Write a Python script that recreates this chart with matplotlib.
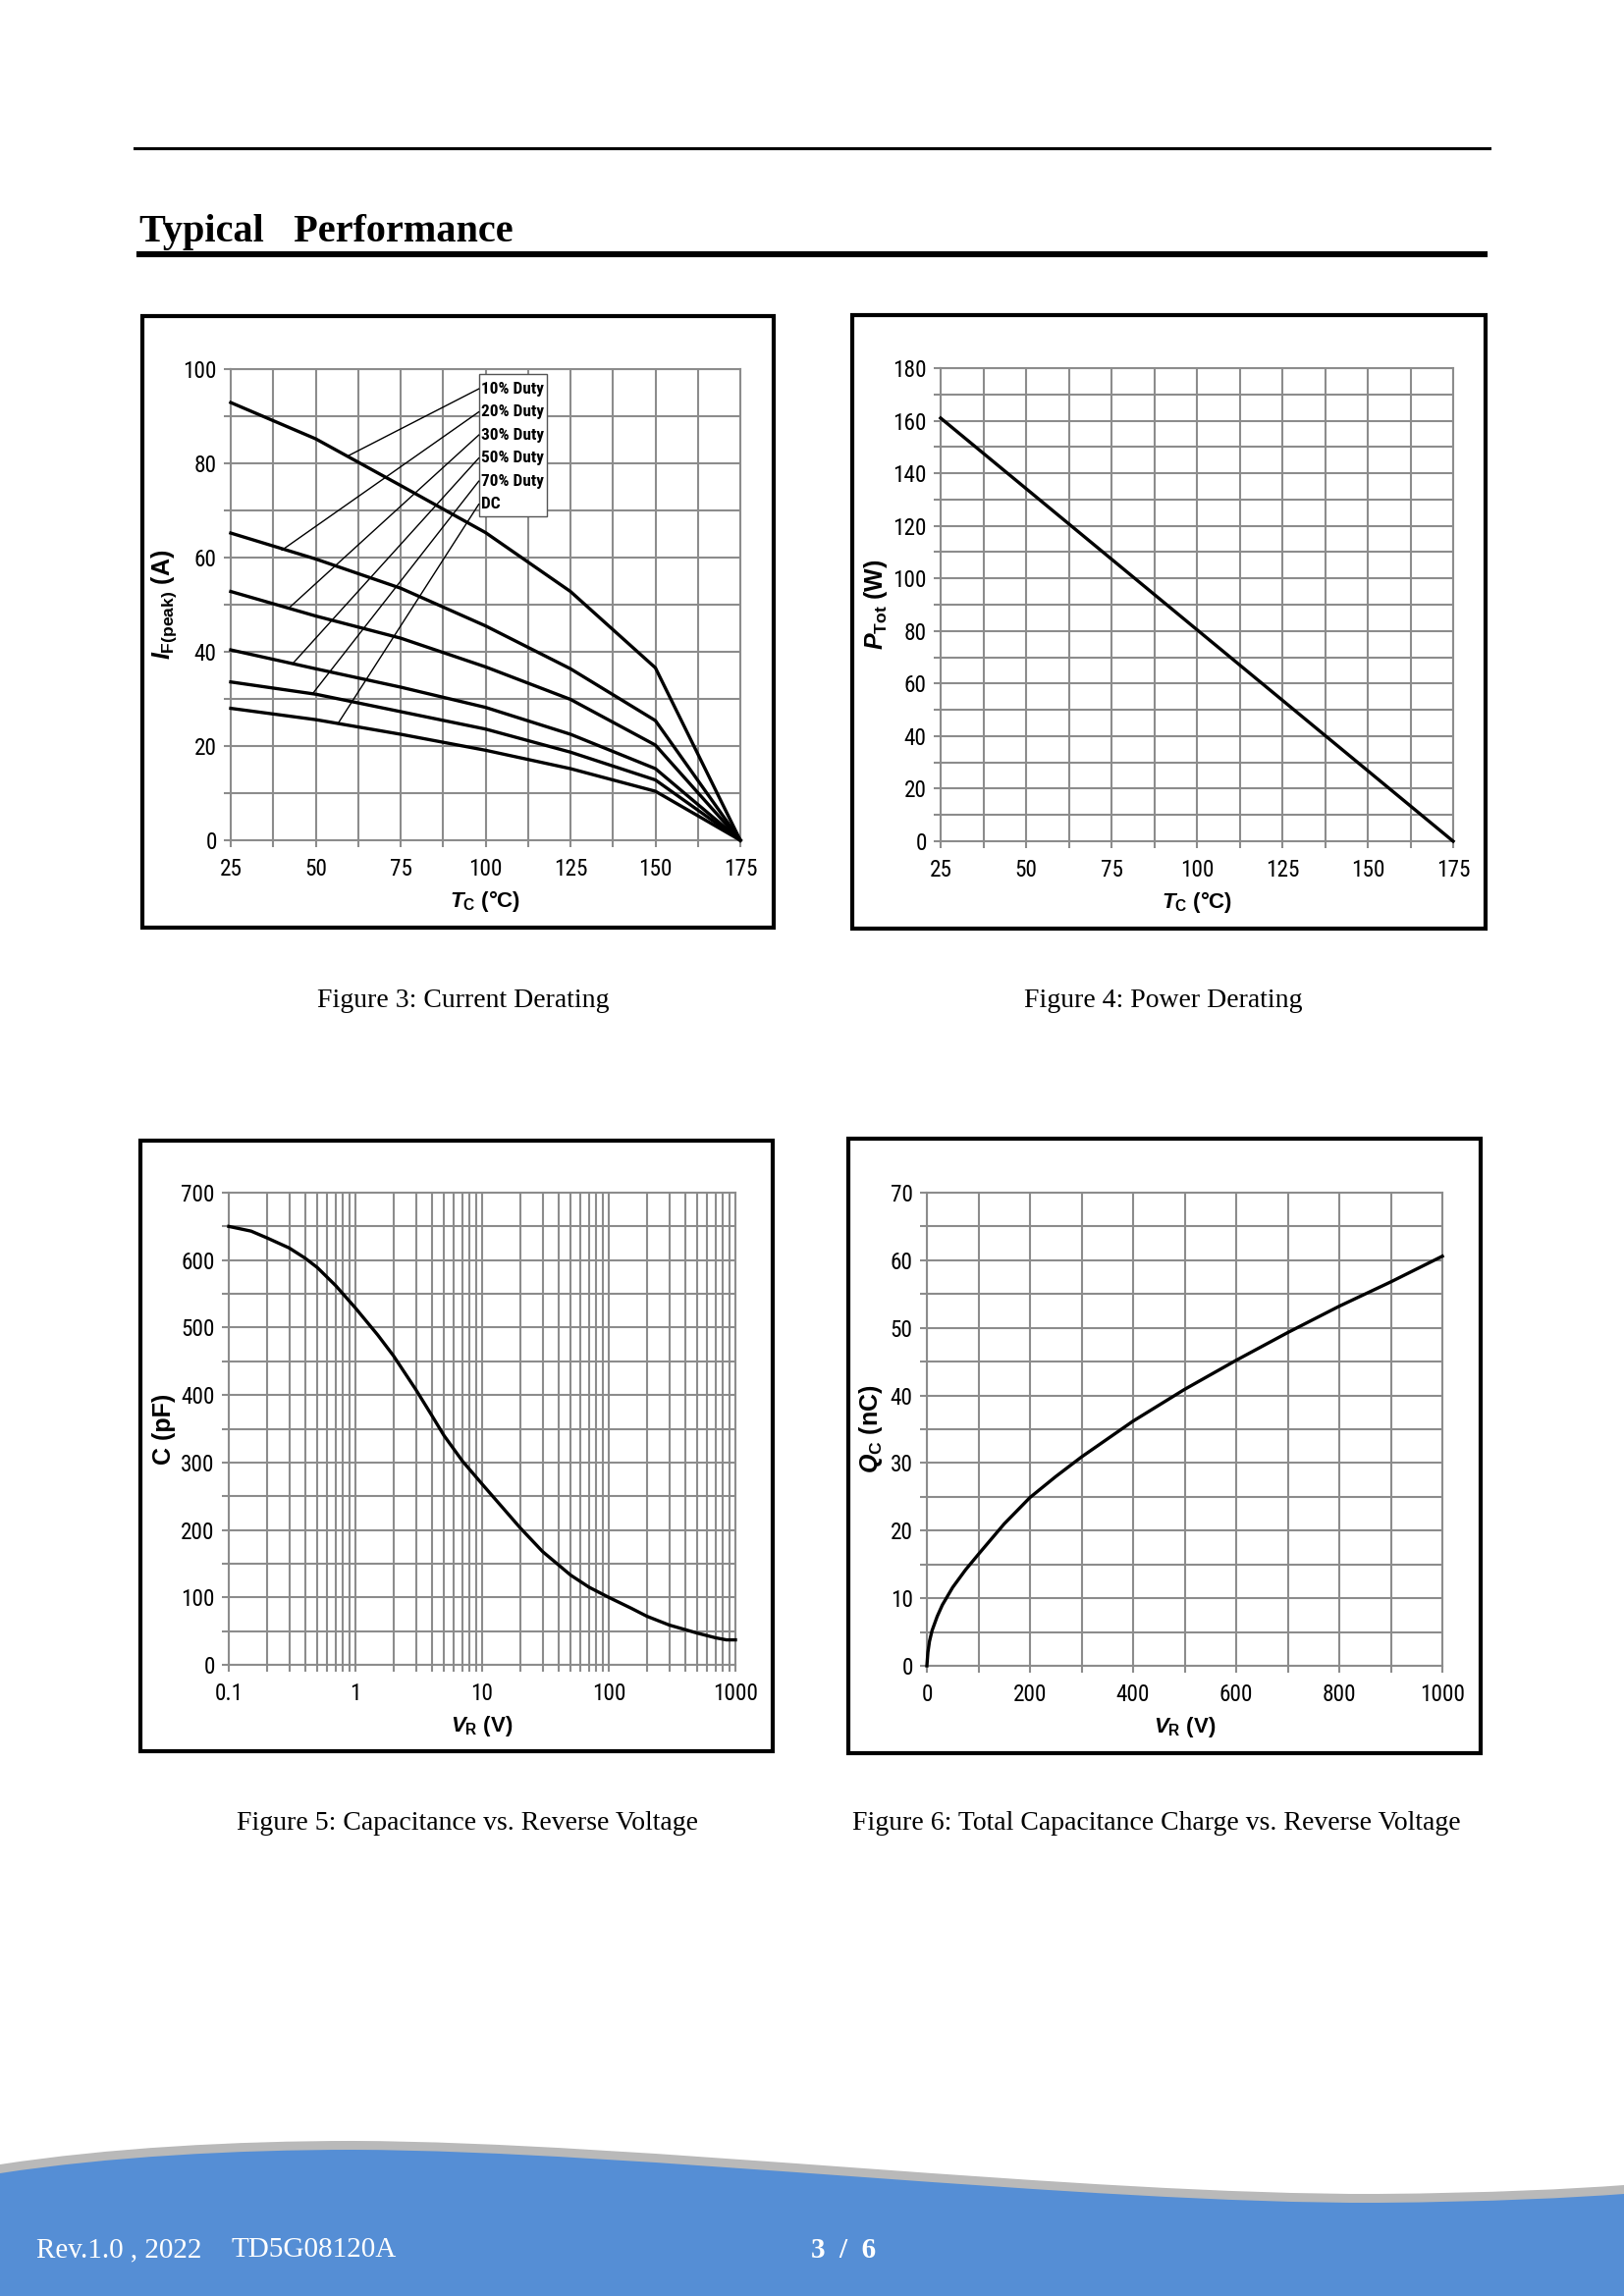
import numpy as np
import matplotlib
matplotlib.use('Agg')
import matplotlib.pyplot as plt
from matplotlib import font_manager
from matplotlib.patches import Rectangle, PathPatch
from matplotlib.path import Path
from matplotlib.lines import Line2D
from matplotlib.ticker import MultipleLocator, LogLocator, NullFormatter

# ---- data ----
# Figure 3: current derating
tc = [25, 50, 75, 100, 125, 150, 175]
duty_labels = ['10% Duty', '20% Duty', '30% Duty', '50% Duty', '70% Duty', 'DC']
i_10 = [92.9, 85.2, 75.3, 65.3, 52.8, 36.6, 0]
i_20 = [65.2, 59.7, 53.5, 45.5, 36.4, 25.4, 0]
i_30 = [52.8, 47.6, 42.9, 36.8, 29.9, 20.2, 0]
i_50 = [40.4, 36.4, 32.5, 28.2, 22.5, 15.2, 0]
i_70 = [33.6, 31.0, 27.3, 23.6, 18.7, 12.8, 0]
i_dc = [28.0, 25.6, 22.5, 19.1, 15.2, 10.4, 0]
legend_rows_y = [95.8, 90.9, 86.0, 81.1, 76.2, 71.3]
leader_x = [59.6, 40.1, 42.3, 43.5, 49.2, 56.5]
leader_y = [81.6, 61.6, 49.4, 37.7, 31.2, 24.7]

# Figure 4: power derating
ptot_tc = [25, 175]
ptot = [161, 0]

# Figure 5: capacitance vs reverse voltage
vr_c = [0.1, 0.15, 0.2, 0.3, 0.4, 0.5, 0.7, 1, 1.5, 2, 3, 4, 5, 7, 10, 15,
        20, 30, 50, 70, 100, 150, 200, 300, 500, 700, 850, 1000]
cap = [650, 643, 633, 618, 603, 589, 562, 529, 489, 458, 408, 370, 340,
       302, 268, 230, 203, 168, 133, 115, 100, 84, 72, 59, 47, 40, 37, 37]
vr_ticks = [0.1, 1, 10, 100, 1000]
vr_ticklabels = ['0.1', '1', '10', '100', '1000']

# Figure 6: capacitive charge vs reverse voltage
vr_q = [0, 2, 5, 10, 20, 30, 50, 75, 100, 150, 200, 250, 300, 400, 500,
        600, 700, 800, 900, 1000]
qc = [0, 2.0, 3.6, 5.2, 7.3, 9.0, 11.6, 14.2, 16.5, 21.0, 24.9, 28.0,
      30.9, 36.2, 40.9, 45.2, 49.3, 53.2, 56.8, 60.6]

captions = ['Figure 3: Current Derating', 'Figure 4: Power Derating',
            'Figure 5: Capacitance vs. Reverse Voltage',
            'Figure 6: Total Capacitance Charge vs. Reverse Voltage']

W, H = 1654, 2339
GRID = '#8c8c8c'
BLUE = '#558ed5'


def has_font(name):
    try:
        font_manager.findfont(font_manager.FontProperties(family=name),
                              fallback_to_default=False)
        return True
    except ValueError:
        return False


narrow = None
for cand in ['Liberation Sans Narrow', 'Nimbus Sans Narrow', 'Arial Narrow',
             'DejaVu Sans Condensed', 'Roboto Condensed', 'Open Sans Condensed']:
    if has_font(cand):
        narrow = cand
        break

if narrow:
    plt.rcParams['font.family'] = [narrow, 'Liberation Sans', 'DejaVu Sans']
    tick_size, leg_size = 8.4, 6.2
else:
    plt.rcParams['font.family'] = ['Liberation Sans', 'DejaVu Sans']
    tick_size, leg_size = 7.8, 5.5

plt.rcParams['mathtext.fontset'] = 'custom'
plt.rcParams['mathtext.rm'] = 'Liberation Sans:bold'
plt.rcParams['mathtext.it'] = 'Liberation Sans:italic:bold'
plt.rcParams['mathtext.bf'] = 'Liberation Sans:bold'
plt.rcParams['mathtext.sf'] = 'Liberation Sans:bold'

fig = plt.figure(figsize=(W / 200, H / 200), dpi=200)


def px_axes(x0, y0, x1, y1):
    return fig.add_axes([x0 / W, 1 - y1 / H, (x1 - x0) / W, (y1 - y0) / H])


def frame(x0, y0, x1, y1):
    fig.add_artist(Rectangle((x0 / W, 1 - y1 / H), (x1 - x0) / W, (y1 - y0) / H,
                             transform=fig.transFigure, fill=False,
                             ec='black', lw=1.5))


def hrule(x0, x1, y, lw):
    fig.add_artist(Line2D([x0 / W, x1 / W], [1 - y / H, 1 - y / H],
                          transform=fig.transFigure, color='black', lw=lw))


def style(ax, xlab, ylab, ylab_x):
    ax.grid(True, which='both', color=GRID, lw=0.75)
    ax.set_axisbelow(True)
    for s in ax.spines.values():
        s.set_color(GRID)
        s.set_linewidth(0.75)
    ax.tick_params(which='both', direction='out', length=2.6, width=0.75,
                   color=GRID, labelsize=tick_size)
    ax.tick_params(axis='x', which='both', pad=4)
    ax.tick_params(axis='y', which='both', pad=2.5)
    ax.set_xlabel(xlab, fontsize=8, fontweight='bold', family='Liberation Sans')
    ax.set_ylabel(ylab, fontsize=9, fontweight='bold', family='Liberation Sans')
    ax.xaxis.label.set_va('center')
    ax.yaxis.label.set_va('center')
    ax.xaxis.set_label_coords(0.5, -0.129)
    ax.yaxis.set_label_coords(ylab_x, 0.5)


# header rules and title
hrule(137, 1517, 151, 1.1)
hrule(142, 1512, 259, 2.2)
fig.text(142 / W, 1 - 246 / H, 'Typical   Performance', family='Liberation Serif',
         fontweight='bold', fontsize=14.5, va='baseline', ha='left')

# ---- Figure 3 ----
frame(145, 322, 788, 945)
ax1 = px_axes(235, 376, 754, 856)
for ys in [i_10, i_20, i_30, i_50, i_70, i_dc]:
    ax1.plot(tc, ys, color='black', lw=1.2, clip_on=False, zorder=3)
ax1.set_xlim(25, 175)
ax1.set_ylim(0, 100)
ax1.xaxis.set_major_locator(MultipleLocator(25))
ax1.xaxis.set_minor_locator(MultipleLocator(12.5))
ax1.yaxis.set_major_locator(MultipleLocator(20))
ax1.yaxis.set_minor_locator(MultipleLocator(10))
style(ax1, r'$T_{\rm C}$ (°C)', r'$I_{\rm F(peak)}$ (A)', -0.131)
ax1.add_patch(Rectangle((98, 68.75), 20, 30.25, fc='white', ec='#555555',
                        lw=0.5, zorder=4))
for lab, ry, lx, ly in zip(duty_labels, legend_rows_y, leader_x, leader_y):
    ax1.text(98.6, ry, lab, fontsize=leg_size, fontweight='bold',
             va='center', ha='left', zorder=5)
    ax1.plot([98, lx], [ry, ly], color='black', lw=0.5, zorder=5)

# ---- Figure 4 ----
frame(868, 321, 1513, 946)
ax2 = px_axes(958, 375, 1480, 857)
ax2.plot(ptot_tc, ptot, color='black', lw=1.2, clip_on=False, zorder=3)
ax2.set_xlim(25, 175)
ax2.set_ylim(0, 180)
ax2.xaxis.set_major_locator(MultipleLocator(25))
ax2.xaxis.set_minor_locator(MultipleLocator(12.5))
ax2.yaxis.set_major_locator(MultipleLocator(20))
ax2.yaxis.set_minor_locator(MultipleLocator(10))
style(ax2, r'$T_{\rm C}$ (°C)', r'$P_{\rm Tot}$ (W)', -0.126)

# ---- Figure 5 ----
frame(143, 1162, 787, 1784)
ax3 = px_axes(233, 1215, 749, 1696)
ax3.plot(vr_c, cap, color='black', lw=1.2, clip_on=False, zorder=3)
ax3.set_xscale('log')
ax3.set_xlim(0.1, 1000)
ax3.set_ylim(0, 700)
ax3.set_xticks(vr_ticks, labels=vr_ticklabels)
ax3.xaxis.set_minor_locator(LogLocator(base=10, subs=np.arange(2, 10)))
ax3.xaxis.set_minor_formatter(NullFormatter())
ax3.yaxis.set_major_locator(MultipleLocator(100))
ax3.yaxis.set_minor_locator(MultipleLocator(50))
style(ax3, r'$V_{\rm R}$ (V)', 'C (pF)', -0.128)

# ---- Figure 6 ----
frame(864, 1160, 1508, 1786)
ax4 = px_axes(944, 1215, 1469, 1697)
ax4.plot(vr_q, qc, color='black', lw=1.2, clip_on=False, zorder=3)
ax4.set_xlim(0, 1000)
ax4.set_ylim(0, 70)
ax4.xaxis.set_major_locator(MultipleLocator(200))
ax4.xaxis.set_minor_locator(MultipleLocator(100))
ax4.yaxis.set_major_locator(MultipleLocator(10))
ax4.yaxis.set_minor_locator(MultipleLocator(5))
style(ax4, r'$V_{\rm R}$ (V)', r'$Q_{\rm C}$ (nC)', -0.109)

# captions
for txt, cx, cy in zip(captions, [472, 1185, 476, 1178], [1019, 1019, 1858, 1858]):
    fig.text(cx / W, 1 - cy / H, txt, family='Liberation Serif', fontsize=10,
             ha='center', va='center')

# ---- footer wave ----
fax = fig.add_axes([0, 0, 1, (H - 2160) / H])
fax.set_xlim(0, W)
fax.set_ylim(H, 2160)
fax.axis('off')
C4 = Path.CURVE4


def wave(dy):
    verts = [(0, 2205), (110, 2188), (240, 2181), (360, 2181),
             (650, 2182), (1100, 2236), (1403, 2235),
             (1520, 2234), (1600, 2230), (W, 2226),
             (W, H), (0, H), (0, 2205)]
    verts = [(x, y + dy if y < H else y) for x, y in verts]
    codes = [Path.MOVETO, C4, C4, C4, C4, C4, C4, C4, C4, C4,
             Path.LINETO, Path.LINETO, Path.CLOSEPOLY]
    return Path(verts, codes)


fax.add_patch(PathPatch(wave(0), fc='#b9b9b9', ec='none'))
fax.add_patch(PathPatch(wave(9), fc=BLUE, ec='none'))
fig.text(37 / W, 1 - 2292 / H, 'Rev.1.0 , 2022', family='Liberation Serif',
         fontsize=10.5, color='white', ha='left', va='center')
fig.text(236 / W, 1 - 2292 / H, 'TD5G08120A', family='Liberation Serif',
         fontsize=10.5, color='white', ha='left', va='center')
fig.text(859 / W, 1 - 2292 / H, '3  /  6', family='Liberation Serif',
         fontsize=10.5, fontweight='bold', color='white', ha='center', va='center')

fig.savefig('out.png', dpi=200, facecolor='white')
